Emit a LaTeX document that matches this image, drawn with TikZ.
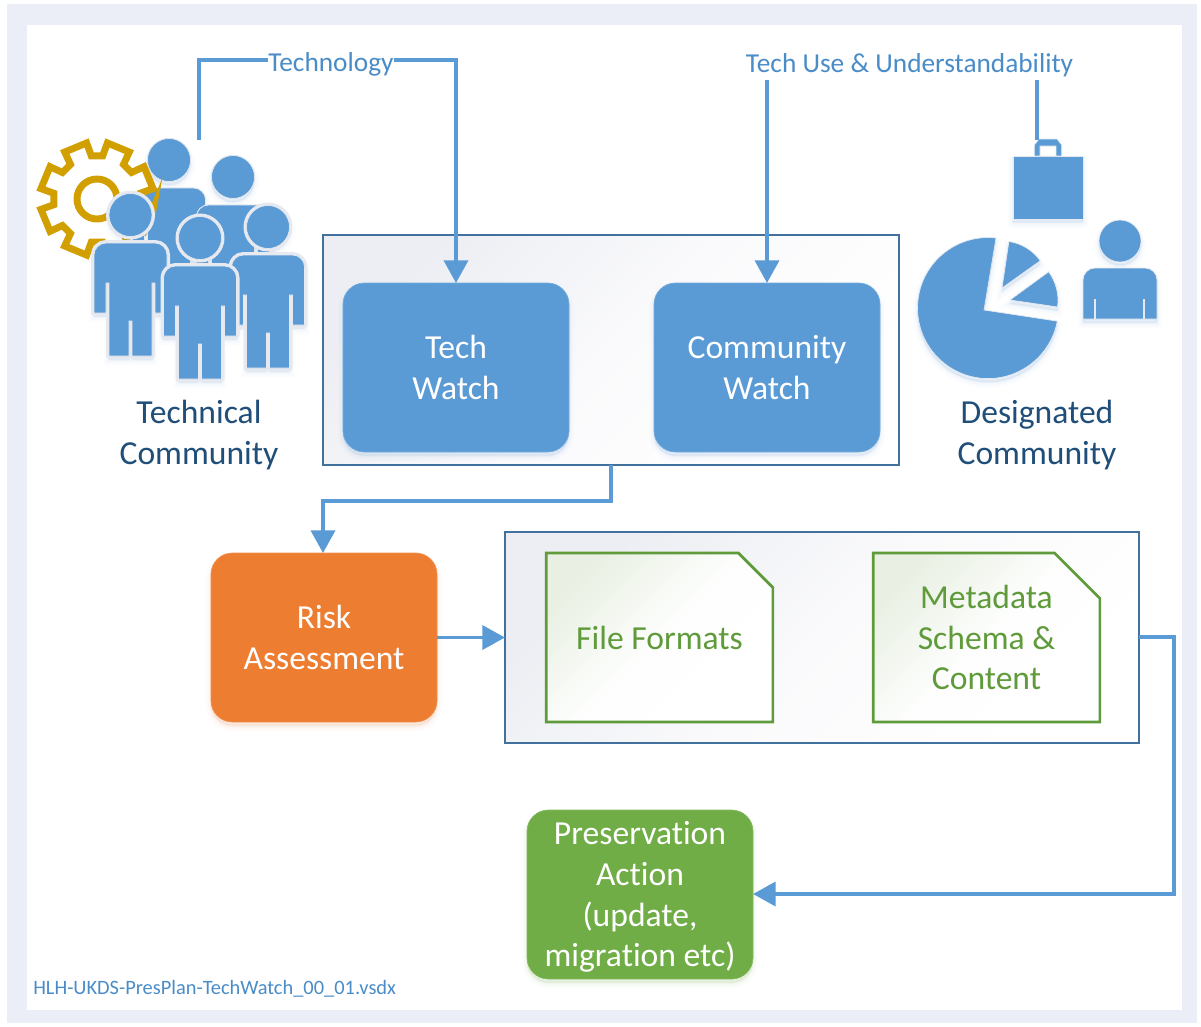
\documentclass[tikz,border=0pt]{standalone}
\usepackage{fontspec}
\setmainfont[Ligatures=NoCommon]{Carlito}
\usetikzlibrary{arrows.meta,shapes.misc,calc}
\definecolor{pagebg}{HTML}{EBEEF7}
\definecolor{bluefill}{HTML}{5B9BD5}
\definecolor{linkblue}{HTML}{5B9BD5}
\definecolor{labelblue}{HTML}{4A8CC8}
\definecolor{darkblue}{HTML}{1F4E79}
\definecolor{groupline}{HTML}{41719C}
\definecolor{orangefill}{HTML}{ED7D31}
\definecolor{greenfill}{HTML}{70AD47}
\definecolor{greentext}{HTML}{5F9B3A}
\definecolor{goldgear}{HTML}{D19F00}
\definecolor{haloc}{HTML}{E6EAF0}
\definecolor{groupA}{HTML}{ECEEF3}
\definecolor{groupB}{HTML}{FAFAFC}
\definecolor{docA}{HTML}{E9F0E3}
\definecolor{docB}{HTML}{FDFEFD}
\tikzset{
  x=0.75pt,y=-0.75pt,
  softshadow/.style={
    preaction={draw=#1,fill=#1,opacity=.025,line width=7pt,transform canvas={yshift=-3.5pt}},
    preaction={draw=#1,fill=#1,opacity=.035,line width=4pt,transform canvas={yshift=-3pt}},
    preaction={draw=#1,fill=#1,opacity=.05,line width=1.5pt,transform canvas={yshift=-2.5pt}}},
  bigtext/.style={font=\fontsize{25.2}{30.5}\selectfont,align=center},
  solidbox/.style={rectangle,rounded corners=16pt,minimum width=169.5pt,minimum height=126.75pt,
    inner sep=0pt,outer sep=0pt,text=white,bigtext,draw=#1!85!white,line width=.5pt,fill=#1,softshadow=#1},
  groupbox/.style={rectangle,draw=groupline,line width=2.2pt,inner sep=0pt,outer sep=0pt,
    top color=groupA,bottom color=white,middle color=groupB,shading angle=45},
  docbox/.style={chamfered rectangle,chamfered rectangle corners=north east,
    chamfered rectangle xsep=17pt,chamfered rectangle ysep=17pt,
    minimum width=170pt,minimum height=126.75pt,inner sep=0pt,outer sep=0pt,draw=greentext,line width=2pt,
    top color=docA,bottom color=white,middle color=docB,shading angle=45,
    text=greentext,bigtext},
  captiontext/.style={text=darkblue,bigtext},
  smalllabel/.style={text=labelblue,inner sep=0pt,font=\fontsize{20.5}{24}\selectfont},
  link/.style={draw=linkblue,line width=2.8pt},
  arrowlink/.style={link,-{Triangle[length=17pt,width=18pt]}},
  iconfill/.style={fill=bluefill,draw=haloc,line width=.5pt},
  gearline/.style={draw=goldgear,line width=5.2pt,fill=white,line join=miter}
}
\newcommand\personfig[3]{%
\begin{scope}[shift={(#1,#2)}]
  \path[softshadow=bluefill] (0,0) circle[radius=21.5];
  \draw[draw=haloc,line width=#3,line join=round] (0,0) circle[radius=21.5];
  \draw[iconfill] (0,0) circle[radius=21.5];
  \def\bodypath{(-36.5,98) [rounded corners=9pt] -- (-36.5,28) -- (36.5,28) [sharp corners] -- (36.5,98)
    -- (24.5,98) -- (24.5,68) -- (21.5,68) -- (21.5,141) -- (1.5,141) -- (1.5,106) -- (-1.5,106)
    -- (-1.5,141) -- (-21.5,141) -- (-21.5,68) -- (-24.5,68) -- (-24.5,98) -- cycle}
  \path[softshadow=bluefill] \bodypath;
  \draw[draw=haloc,line width=#3,line join=round] \bodypath;
  \draw[iconfill] \bodypath;
\end{scope}}
\begin{document}
\begin{tikzpicture}
\useasboundingbox (0,0) rectangle (1201,1026);
% page
\fill[white] (0,0) rectangle (1201,1026);
\fill[pagebg] (7,4) rectangle (1197,1023);
\fill[white] (27,25) rectangle (1182,1010);

% groups
\node[groupbox,minimum width=432pt,minimum height=172.5pt] (watchgroup) at (611,350) {};
\node[groupbox,minimum width=475.5pt,minimum height=158.25pt] (filegroup) at (822,637.5) {};

% boxes
\node[solidbox=bluefill] (techwatch) at (456,367.5) {Tech\\Watch};
\node[solidbox=bluefill] (commwatch) at (767,367.5) {Community\\Watch};
\node[solidbox=orangefill] (risk) at (324,637.5) {Risk\\Assessment};
\node[solidbox=greenfill] (action) at (640,894.5) {\rule{0pt}{21.5pt}Preservation\\Action\\(update,\\migration etc)};
\node[docbox] (formats) at (659.5,637.5) {File Formats};
\node[docbox] (metadata) at (986.5,637.5) {Metadata\\Schema \&\\Content};

% technical community icon
\personfig{169}{160}{.8pt}
\begin{scope}[shift={(97,199)}]
  \draw[gearline] (11:57) \foreach \a in {22.5,67.5,...,337.5} {
     -- (\a-12:57) -- (\a+12:57) -- (\a+15:43.5) -- (\a+30:43.5)} -- cycle;
  \draw[gearline] (0,0) circle[radius=20];
\end{scope}
\personfig{233}{177}{.8pt}
\personfig{268}{227}{4.5pt}
\personfig{130.5}{215}{4.5pt}
\personfig{200}{238}{4.5pt}

% designated community icon
\path[softshadow=bluefill] (1013,156) rectangle (1083,219);
\draw[iconfill] (1013,156) rectangle (1083,219);
\draw[iconfill,even odd rule] (1034.3,156) -- (1034.3,145) -- (1039,139) -- (1057,139) -- (1061.7,145) -- (1061.7,156) -- cycle
   (1040,146) rectangle (1056,156);
\def\pieA{(984,310) -- (996,238) arc[start angle=-83.5,end angle=-349.3,radius=70.5] -- cycle}
\def\pieB{(1002,288) -- (1008.9,241.5) arc[start angle=-81.5,end angle=-35.4,radius=47] -- cycle}
\def\pieC{(1010,300) -- (1048.6,271.8) arc[start angle=-36.4,end angle=8,radius=48] -- cycle}
\path[softshadow=bluefill] \pieA;
\draw[iconfill] \pieA;
\path[softshadow=bluefill] \pieB;
\draw[iconfill] \pieB;
\path[softshadow=bluefill] \pieC;
\draw[iconfill] \pieC;
\path[softshadow=bluefill] (1120,241) circle[radius=21];
\draw[iconfill] (1120,241) circle[radius=21];
\def\bustpath{(1083,319) [rounded corners=9pt] -- (1083,268) -- (1157,268) [sharp corners] -- (1157,319) -- cycle}
\path[softshadow=bluefill] \bustpath;
\draw[iconfill] \bustpath;
\draw[haloc,line width=.8pt] (1095,299) -- (1095,319) (1144,299) -- (1144,319);

% captions
\node[captiontext] (techcaption) at (199,435) {Technical\\Community};
\node[captiontext] (desigcaption) at (1037,435) {Designated\\Community};

% labels
\node[smalllabel] (techlabel) at (331,64) {Technology};
\node[smalllabel] (uselabel) at (909.5,65) {Tech Use \& Understandability};
\node[text=labelblue,inner sep=0pt,anchor=west,font=\fontsize{15.3}{18}\selectfont] (filename) at (33,989) {HLH-UKDS-PresPlan-TechWatch\_00\_01.vsdx};

% connector ends
\coordinate (crowdtop) at (199,140);
\coordinate (crowdup) at (199,60);
\coordinate (techturn) at (456,60);
\coordinate (usestartA) at (767,80);
\coordinate (usestartB) at (1037,80);
\coordinate (bagtop) at (1037,140);
\coordinate (watchout) at (611,465);
\coordinate (elbowA) at (611,501);
\coordinate (elbowB) at (323,501);
\coordinate (fileout) at (1139,637);
\coordinate (elbowC) at (1174,637);
\coordinate (elbowD) at (1174,894);

% connectors
\draw[link] (crowdtop) -- (crowdup) -- (crowdup -| techlabel.west);
\draw[arrowlink] (crowdup -| techlabel.east) -- (techturn) -- (techwatch.north);
\draw[arrowlink] (usestartA) -- (commwatch.north);
\draw[link] (usestartB) -- (bagtop);
\draw[arrowlink] (watchout) -- (elbowA) -- (elbowB) -- (risk.north -| elbowB);
\draw[arrowlink] (risk.east) -- (filegroup.west);
\draw[arrowlink] (fileout) -- (elbowC) -- (elbowD) -- (elbowD -| action.east);
\end{tikzpicture}
\end{document}
